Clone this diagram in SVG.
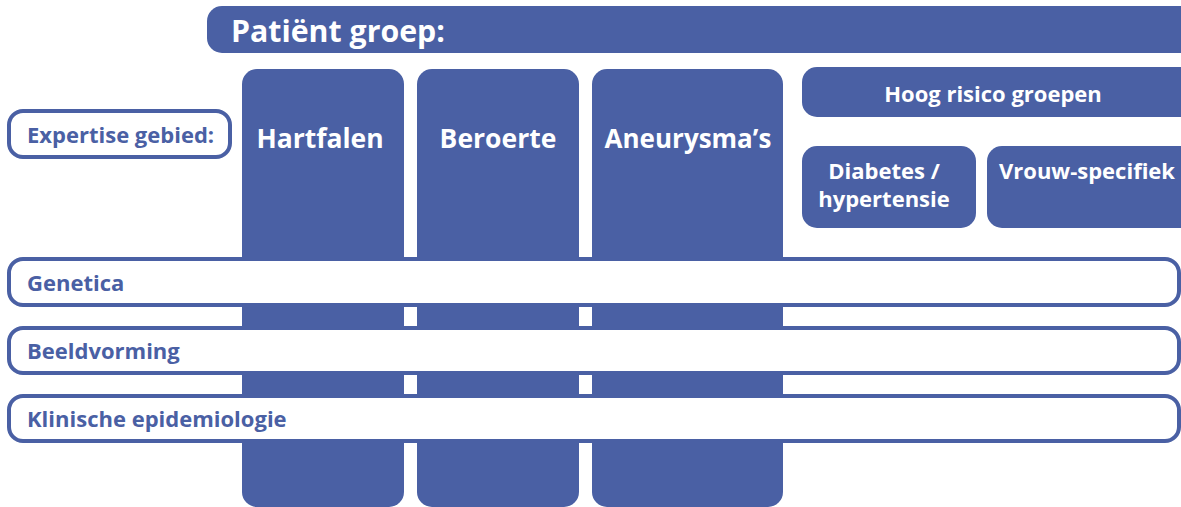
<svg xmlns="http://www.w3.org/2000/svg" width="1181" height="507" viewBox="0 0 1181 507">
<style>
.blk{fill:#4A60A4}
.band{fill:#fff;stroke:#4A60A4;stroke-width:4}
.tw{fill:#fff;font-family:"Open Sans","Liberation Sans",sans-serif;font-weight:bold}
.tb{fill:#4A60A4;font-family:"Open Sans","Liberation Sans",sans-serif;font-weight:bold}
</style>
<rect width="1181" height="507" fill="#fff"/>
<g id="patient-groep">
<rect class="blk" x="207" y="6" width="1000" height="47" rx="15"/>
<text class="tw" x="231" y="42" font-size="30.3">Patiënt groep:</text>
</g>
<g id="hartfalen">
<rect class="blk" x="242" y="69" width="162" height="438" rx="15"/>
<text class="tw" x="320" y="148" font-size="26.5" text-anchor="middle">Hartfalen</text>
</g>
<g id="beroerte">
<rect class="blk" x="417" y="69" width="162" height="438" rx="15"/>
<text class="tw" x="498" y="148" font-size="26.5" text-anchor="middle">Beroerte</text>
</g>
<g id="aneurysmas">
<rect class="blk" x="592" y="69" width="191" height="438" rx="15"/>
<text class="tw" x="688" y="148" font-size="26" text-anchor="middle">Aneurysma’s</text>
</g>
<g id="hoog-risico">
<rect class="blk" x="802" y="67" width="400" height="50" rx="15"/>
<text class="tw" x="993" y="102" font-size="22" text-anchor="middle">Hoog risico groepen</text>
</g>
<g id="diabetes">
<rect class="blk" x="802" y="146" width="174" height="82" rx="15"/>
<text class="tw" x="884" y="179" font-size="22" text-anchor="middle">Diabetes /</text>
<text class="tw" x="884" y="207" font-size="22" text-anchor="middle">hypertensie</text>
</g>
<g id="vrouw">
<rect class="blk" x="987" y="146" width="250" height="82" rx="15"/>
<text class="tw" x="1087" y="179" font-size="22" text-anchor="middle">Vrouw-specifiek</text>
</g>
<g id="expertise">
<rect class="band" x="9" y="111" width="221" height="46" rx="14"/>
<text class="tb" x="27" y="143" font-size="22">Expertise gebied:</text>
</g>
<g id="genetica">
<rect class="band" x="9" y="259" width="1170" height="46" rx="14"/>
<text class="tb" x="27" y="291" font-size="22">Genetica</text>
</g>
<g id="beeldvorming">
<rect class="band" x="9" y="328" width="1170" height="45" rx="14"/>
<text class="tb" x="27" y="359" font-size="22">Beeldvorming</text>
</g>
<g id="klinische">
<rect class="band" x="9" y="396" width="1170" height="45" rx="14"/>
<text class="tb" x="27" y="427" font-size="22">Klinische epidemiologie</text>
</g>
<g id="connectors"></g>
</svg>
